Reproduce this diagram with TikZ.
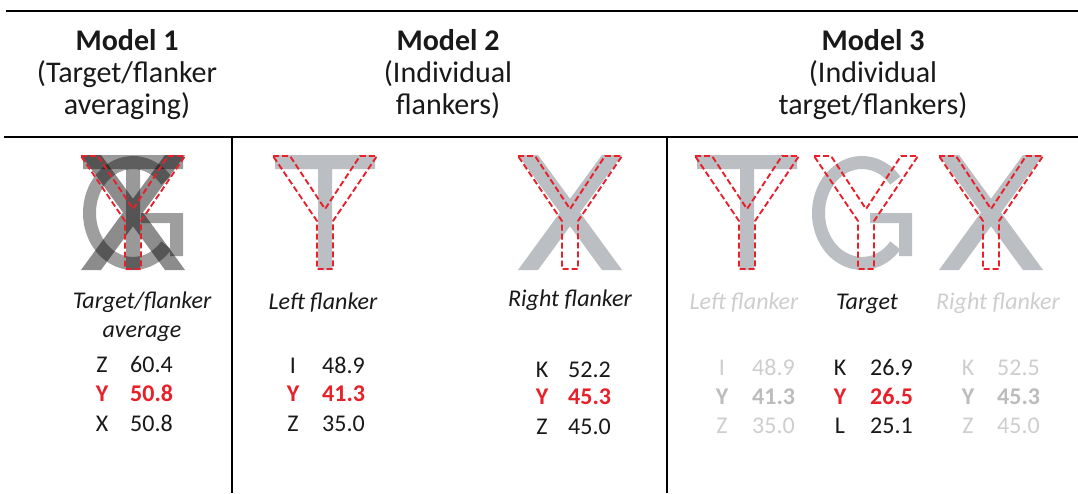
\documentclass[tikz,border=0pt]{standalone}
\usepackage{fontspec}
\setmainfont{Carlito}

\definecolor{markred}{RGB}{232,32,42}
\definecolor{glyphgray}{RGB}{187,190,194}
\definecolor{inktext}{RGB}{25,25,25}
\definecolor{fadetext}{RGB}{206,206,206}
\definecolor{fadebold}{RGB}{188,188,188}

\tikzset{
  rule/.style={line width=2.8pt, black},
  head/.style={inner sep=0pt, anchor=base, text=inktext, font=\fontsize{30}{34}\selectfont},
  cell/.style={inner sep=0pt, anchor=base, text=inktext, font=\fontsize{24}{29}\selectfont},
  label/.style={cell, font=\fontsize{24}{29}\selectfont\itshape},
  hit/.style={text=markred, font=\fontsize{24}{29}\selectfont\bfseries},
  faded/.style={text=fadetext},
  fadedhit/.style={text=fadebold, font=\fontsize{24}{29}\selectfont\bfseries},
  youtline/.style={markred, line width=1.9pt, dash pattern=on 6pt off 3pt, line join=miter},
}

% letter shapes, drawn at horizontal centre #1 with colour #2
\newcommand{\glyphT}[2]{%
  \fill[#2] (#1-50,155) rectangle (#1+50,169) (#1-7,155) rectangle (#1+7,270);}
\newcommand{\glyphX}[2]{%
  \fill[#2] (#1-52,155) -- (#1-32,155) -- (#1+52,270) -- (#1+32,270) -- cycle
            (#1+32,155) -- (#1+52,155) -- (#1-32,270) -- (#1-52,270) -- cycle;}
\newcommand{\glyphG}[2]{%
  \draw[#2, line width=13pt] ([shift={(-40:43.5 and 50.5)}]#1,213)
     arc[start angle=-40, end angle=-320, x radius=43.5, y radius=50.5];
  \fill[#2] (#1+37,213) rectangle (#1+50,256) (#1+8,213) rectangle (#1+50,223);}
% dashed outline of the letter Y
\newcommand{\outlineY}[1]{%
  \draw[youtline] (#1-52,156) -- (#1-35,156) -- (#1,209) -- (#1+35,156) -- (#1+52,156)
     -- (#1+8,221) -- (#1+8,269) -- (#1-8,269) -- (#1-8,221) -- cycle;}
% one table row: letter centred at #2, value starting at #3, baseline #4
\newcommand{\datarow}[7]{%
  \node[cell,#7] (#1l) at (#2,#4) {#5};
  \node[cell,anchor=base west,#7] (#1v) at (#3,#4) {#6};}

\begin{document}
\begin{tikzpicture}[x=1pt, y=-1pt]
\useasboundingbox[fill=white] (0,0) rectangle (1078,493);

% table rules
\coordinate (topL) at (6,11);   \coordinate (topR) at (1078,11);
\coordinate (midL) at (4,137);  \coordinate (midR) at (1078,137);
\coordinate (v1t) at (232,137); \coordinate (v1b) at (232,493);
\coordinate (v2t) at (667,137); \coordinate (v2b) at (667,493);
\draw[rule] (topL) -- (topR);
\draw[rule] (midL) -- (midR);
\draw[rule] (v1t) -- (v1b);
\draw[rule] (v2t) -- (v2b);

% headings
\node[head, font=\fontsize{30}{34}\selectfont\bfseries] (h1a) at (127,50) {Model 1};
\node[head] (h1b) at (127,82) {(Target/flanker};
\node[head] (h1c) at (127,114) {averaging)};
\node[head, font=\fontsize{30}{34}\selectfont\bfseries] (h2a) at (448,50) {Model 2};
\node[head] (h2b) at (448,82) {(Individual};
\node[head] (h2c) at (448,114) {flankers)};
\node[head, font=\fontsize{30}{34}\selectfont\bfseries] (h3a) at (873,50) {Model 3};
\node[head] (h3b) at (873,82) {(Individual};
\node[head] (h3c) at (873,114) {target/flankers)};

% Model 1: superimposed target and flankers
\begin{scope}[transparency group, opacity=0.38]\glyphG{133}{black}\end{scope}
\begin{scope}[transparency group, opacity=0.40]\glyphT{133}{black}\end{scope}
\begin{scope}[transparency group, opacity=0.45]\glyphX{133}{black}\end{scope}
\outlineY{133}

% Model 2: individual flankers
\glyphT{325}{glyphgray}
\outlineY{325}
\glyphX{570}{glyphgray}
\outlineY{570}

% Model 3: individual target and flankers
\glyphT{747}{glyphgray}
\outlineY{747}
\glyphG{862}{glyphgray}
\outlineY{866}
\glyphX{991}{glyphgray}
\outlineY{991}

% Model 1 values
\node[label] (lab1a) at (142,308) {Target/flanker};
\node[label] (lab1b) at (142,337) {average};
\datarow{m1r1}{102}{130}{372}{Z}{60.4}{}
\datarow{m1r2}{102}{130}{401}{Y}{50.8}{hit}
\datarow{m1r3}{102}{130}{431}{X}{50.8}{}

% Model 2 values
\node[label] (lab2l) at (323,309) {Left flanker};
\datarow{m2a1}{293}{322}{373}{I}{48.9}{}
\datarow{m2a2}{293}{322}{401}{Y}{41.3}{hit}
\datarow{m2a3}{293}{322}{431}{Z}{35.0}{}
\node[label] (lab2r) at (570,306) {Right flanker};
\datarow{m2b1}{542}{568}{377}{K}{52.2}{}
\datarow{m2b2}{542}{568}{404}{Y}{45.3}{hit}
\datarow{m2b3}{542}{568}{434}{Z}{45.0}{}

% Model 3 values
\node[label, faded] (lab3l) at (744,309) {Left flanker};
\datarow{m3a1}{722}{752}{375}{I}{48.9}{faded}
\datarow{m3a2}{722}{752}{404}{Y}{41.3}{fadedhit}
\datarow{m3a3}{722}{752}{433}{Z}{35.0}{faded}
\node[label] (lab3t) at (867,309) {Target};
\datarow{m3b1}{840}{870}{375}{K}{26.9}{}
\datarow{m3b2}{840}{870}{404}{Y}{26.5}{hit}
\datarow{m3b3}{840}{870}{433}{L}{25.1}{}
\node[label, faded] (lab3r) at (998,309) {Right flanker};
\datarow{m3c1}{968}{997}{375}{K}{52.5}{faded}
\datarow{m3c2}{968}{997}{404}{Y}{45.3}{fadedhit}
\datarow{m3c3}{968}{997}{433}{Z}{45.0}{faded}
\end{tikzpicture}
\end{document}
